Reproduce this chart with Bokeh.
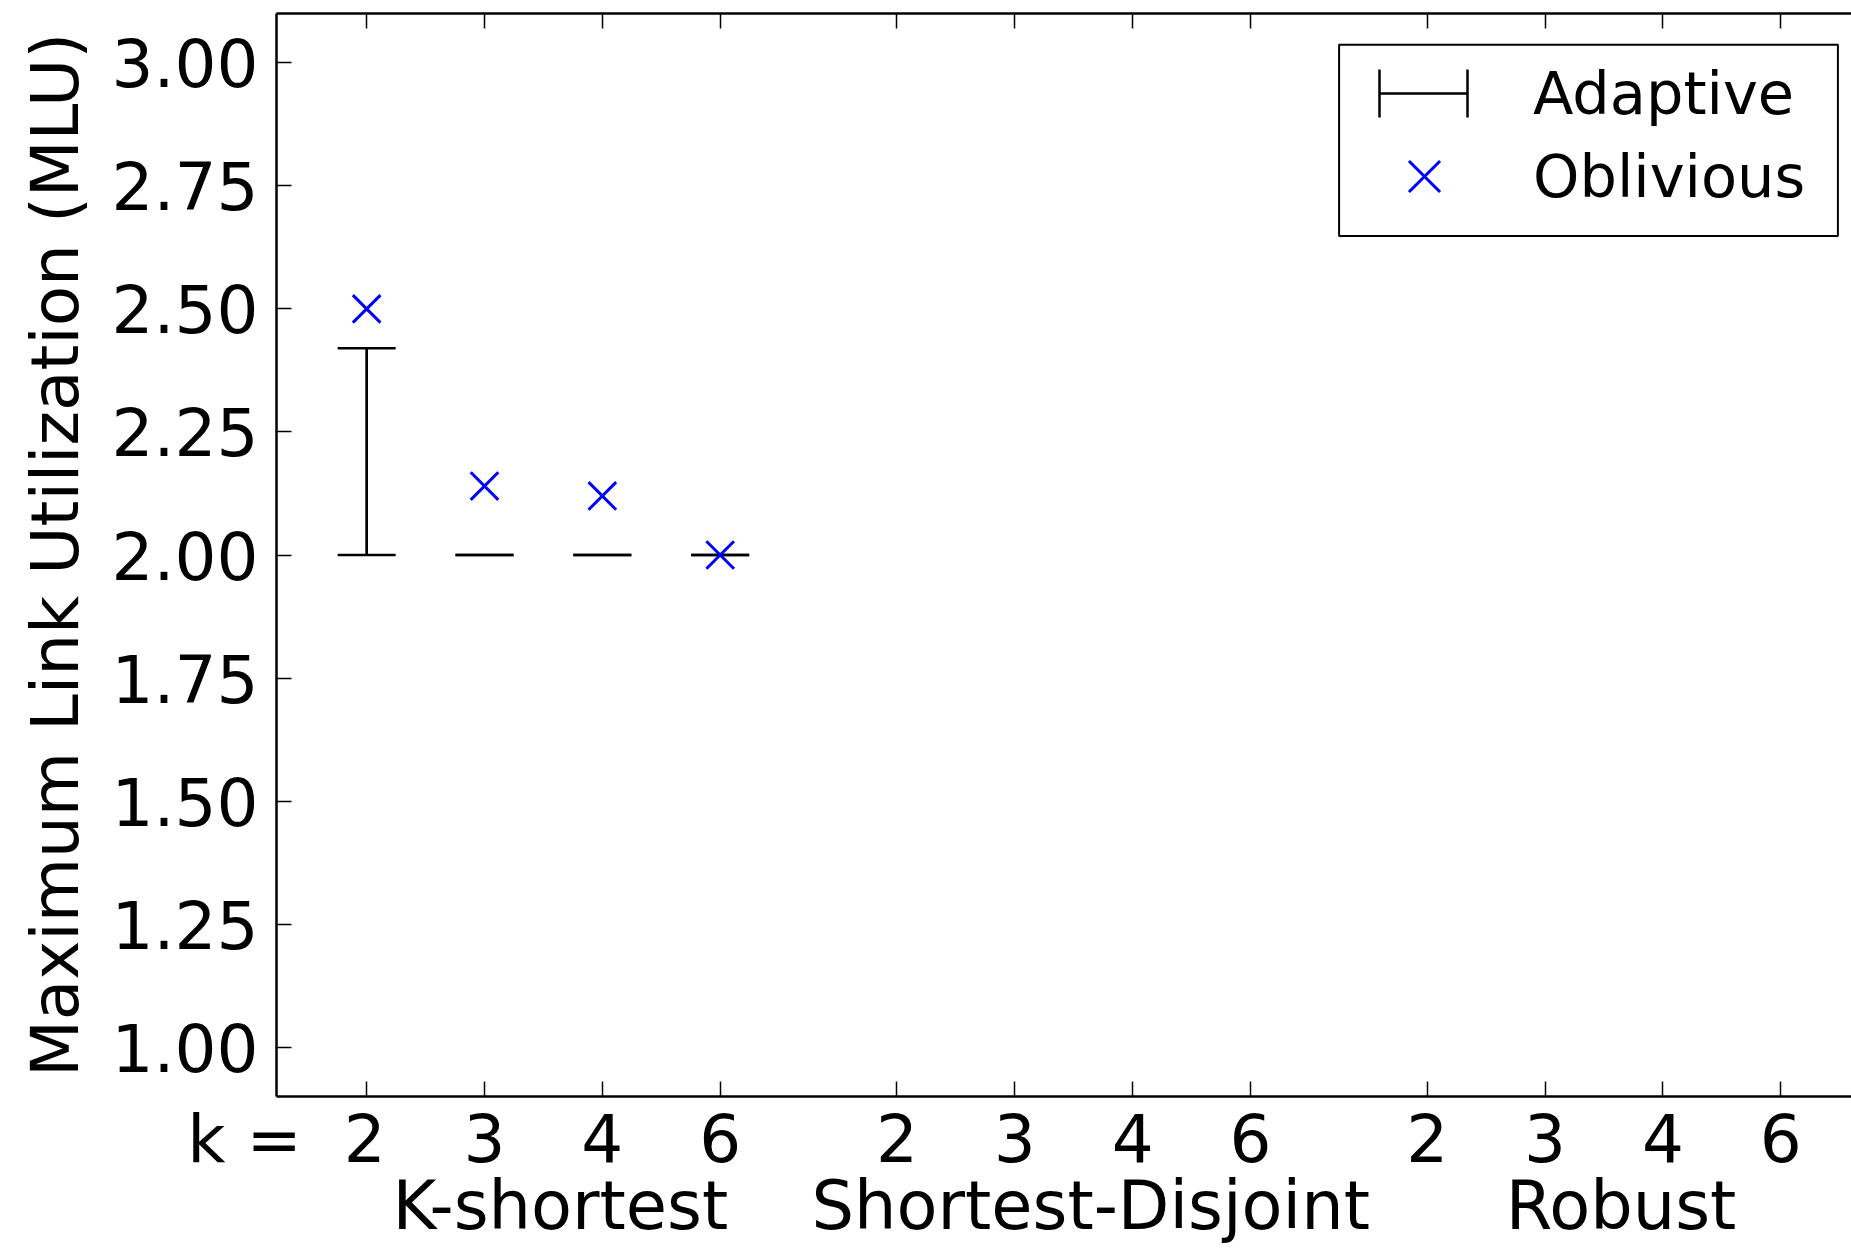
from bokeh.plotting import figure
from bokeh.models import (Range1d, FixedTicker, LinearAxis, Legend, LegendItem,
                          NumeralTickFormatter, ColumnDataSource, BoxAnnotation)
from bokeh.embed import file_html
from bokeh.resources import INLINE

# ---------------- data ----------------
groups = ["K-shortest", "Shortest-Disjoint", "Robust"]
k_values = [2, 3, 4, 6]
# K-shortest results (the other two groups have no plotted values)
kshortest_adaptive_low = [2.00, 2.00, 2.00, 2.00]
kshortest_adaptive_high = [2.42, 2.00, 2.00, 2.00]
kshortest_oblivious = [2.50, 2.14, 2.12, 2.00]
y_ticks = [1.00, 1.25, 1.50, 1.75, 2.00, 2.25, 2.50, 2.75, 3.00]

FONT = "DejaVu Sans"
FS = "66px"
GROUP_GAP = 1.5
positions = []
for g in range(len(groups)):
    start = 1 + g * (len(k_values) - 1 + GROUP_GAP)
    positions.append([start + i for i in range(len(k_values))])
all_pos = [x for grp in positions for x in grp]

W, H = 1851, 1250
BORDER_L, BORDER_T, BORDER_B = 276, 13, 154
X0, X1, Y0, Y1 = 0.235, 13.6, 0.9, 3.1

p = figure(width=W, height=H, x_range=Range1d(X0, X1),
           y_range=Range1d(Y0, Y1), output_backend="svg",
           toolbar_location=None)
p.min_border_left = BORDER_L
p.min_border_right = 0
p.min_border_top = BORDER_T
p.min_border_bottom = BORDER_B
p.outline_line_color = None
p.grid.visible = False

# ---------------- axes ----------------
# tick labels; the first one carries the "k =" prefix (figure spaces keep the digit centred)
xlabels = {}
for i, pos in enumerate(all_pos):
    lab = str(k_values[i % len(k_values)])
    if i == 0:
        lab = "k =\u2007" + lab + "\u2007\u2007\u2007\u2008\u2009"
    xlabels[pos] = lab
xa = p.xaxis[0]
xa.ticker = FixedTicker(ticks=all_pos)
xa.major_label_overrides = xlabels
xa.major_label_standoff = 4

ya = p.yaxis[0]
ya.ticker = FixedTicker(ticks=y_ticks)
ya.formatter = NumeralTickFormatter(format="0.00")
ya.axis_label = "Maximum Link Utilization (MLU)"
ya.axis_label_text_font = FONT
ya.axis_label_text_font_size = FS
ya.axis_label_text_font_style = "normal"
ya.axis_label_text_color = "black"
ya.axis_label_standoff = 15
ya.major_label_standoff = 18

top = LinearAxis(ticker=FixedTicker(ticks=all_pos),
                 major_label_overrides={pos: "" for pos in all_pos},
                 major_label_text_font_size="0px", major_label_standoff=0)
p.add_layout(top, "above")

for ax in (xa, ya, top):
    ax.major_tick_in = 15
    ax.major_tick_out = 0
    ax.minor_tick_line_color = None
    ax.axis_line_width = 2.5
    ax.axis_line_color = "black"
    ax.major_tick_line_width = 1.5
    ax.major_tick_line_color = "black"
for ax in (xa, ya):
    ax.major_label_text_font = FONT
    ax.major_label_text_font_size = FS
    ax.major_label_text_color = "black"

# group names, one label per group, on a second (line-less) bottom axis
centers = [sum(grp) / len(grp) + 0.144 for grp in positions]
grp_axis = LinearAxis(ticker=FixedTicker(ticks=centers),
                      major_label_overrides={c: n for c, n in zip(centers, groups)},
                      axis_line_color=None, major_tick_line_color=None,
                      minor_tick_line_color=None, major_tick_in=0, major_tick_out=0,
                      major_label_standoff=-14, major_label_text_font=FONT,
                      major_label_text_font_size="67px", major_label_text_color="black")
p.add_layout(grp_axis, "below")

# ---------------- data marks ----------------
src = ColumnDataSource(dict(x=positions[0], low=kshortest_adaptive_low,
                            high=kshortest_adaptive_high, obl=kshortest_oblivious))
p.segment(x0="x", y0="low", x1="x", y1="high", source=src,
          line_color="black", line_width=2.7)
p.scatter(x="x", y="low", marker="dash", size=58, source=src,
          line_color="black", line_width=2.7)
p.scatter(x="x", y="high", marker="dash", size=58, source=src,
          line_color="black", line_width=2.7)
obl = p.scatter(x="x", y="obl", marker="x", size=39, source=src,
                line_color="#0000ff", line_width=3)

# ---------------- legend ----------------
def px_to_x(px):
    return X0 + (px - BORDER_L) * (X1 - X0) / (W - BORDER_L)

def px_to_y(py):
    return Y1 - (py - BORDER_T) * (Y1 - Y0) / (H - BORDER_B - BORDER_T)

# legend frame (box drawn separately so that its size matches the original)
p.add_layout(BoxAnnotation(left=px_to_x(1338.6), right=px_to_x(1837.4),
                           top=px_to_y(44.2), bottom=px_to_y(235.6),
                           fill_color="white", fill_alpha=1,
                           line_color="black", line_width=2, line_alpha=1))

nan = float("nan")
leg_line = p.segment(x0=[nan], y0=[nan], x1=[nan], y1=[nan], line_color="black",
                     line_width=2.5, line_dash="0 11 88 11")
leg_caps = p.quad(left=[nan], right=[nan], bottom=[nan], top=[nan], fill_color=None,
                  line_color="black", line_width=2.5, line_dash="0 100 48 112 48 12")

common = dict(padding=0, margin=0, spacing=0, border_line_color=None,
              background_fill_alpha=0, label_text_font=FONT,
              label_text_font_size="59px", label_text_color="black")
leg_a = Legend(items=[LegendItem(label="Adaptive", renderers=[leg_line, leg_caps])],
               location=(1092, 958), glyph_width=110, glyph_height=90,
               label_standoff=55, **common)
leg_o = Legend(items=[LegendItem(label="Oblivious", renderers=[obl])],
               location=(1093, 864), glyph_width=110, glyph_height=112,
               label_standoff=54, **common)
p.add_layout(leg_a, "center")
p.add_layout(leg_o, "center")

open("out.html", "w").write(file_html(p, INLINE))
